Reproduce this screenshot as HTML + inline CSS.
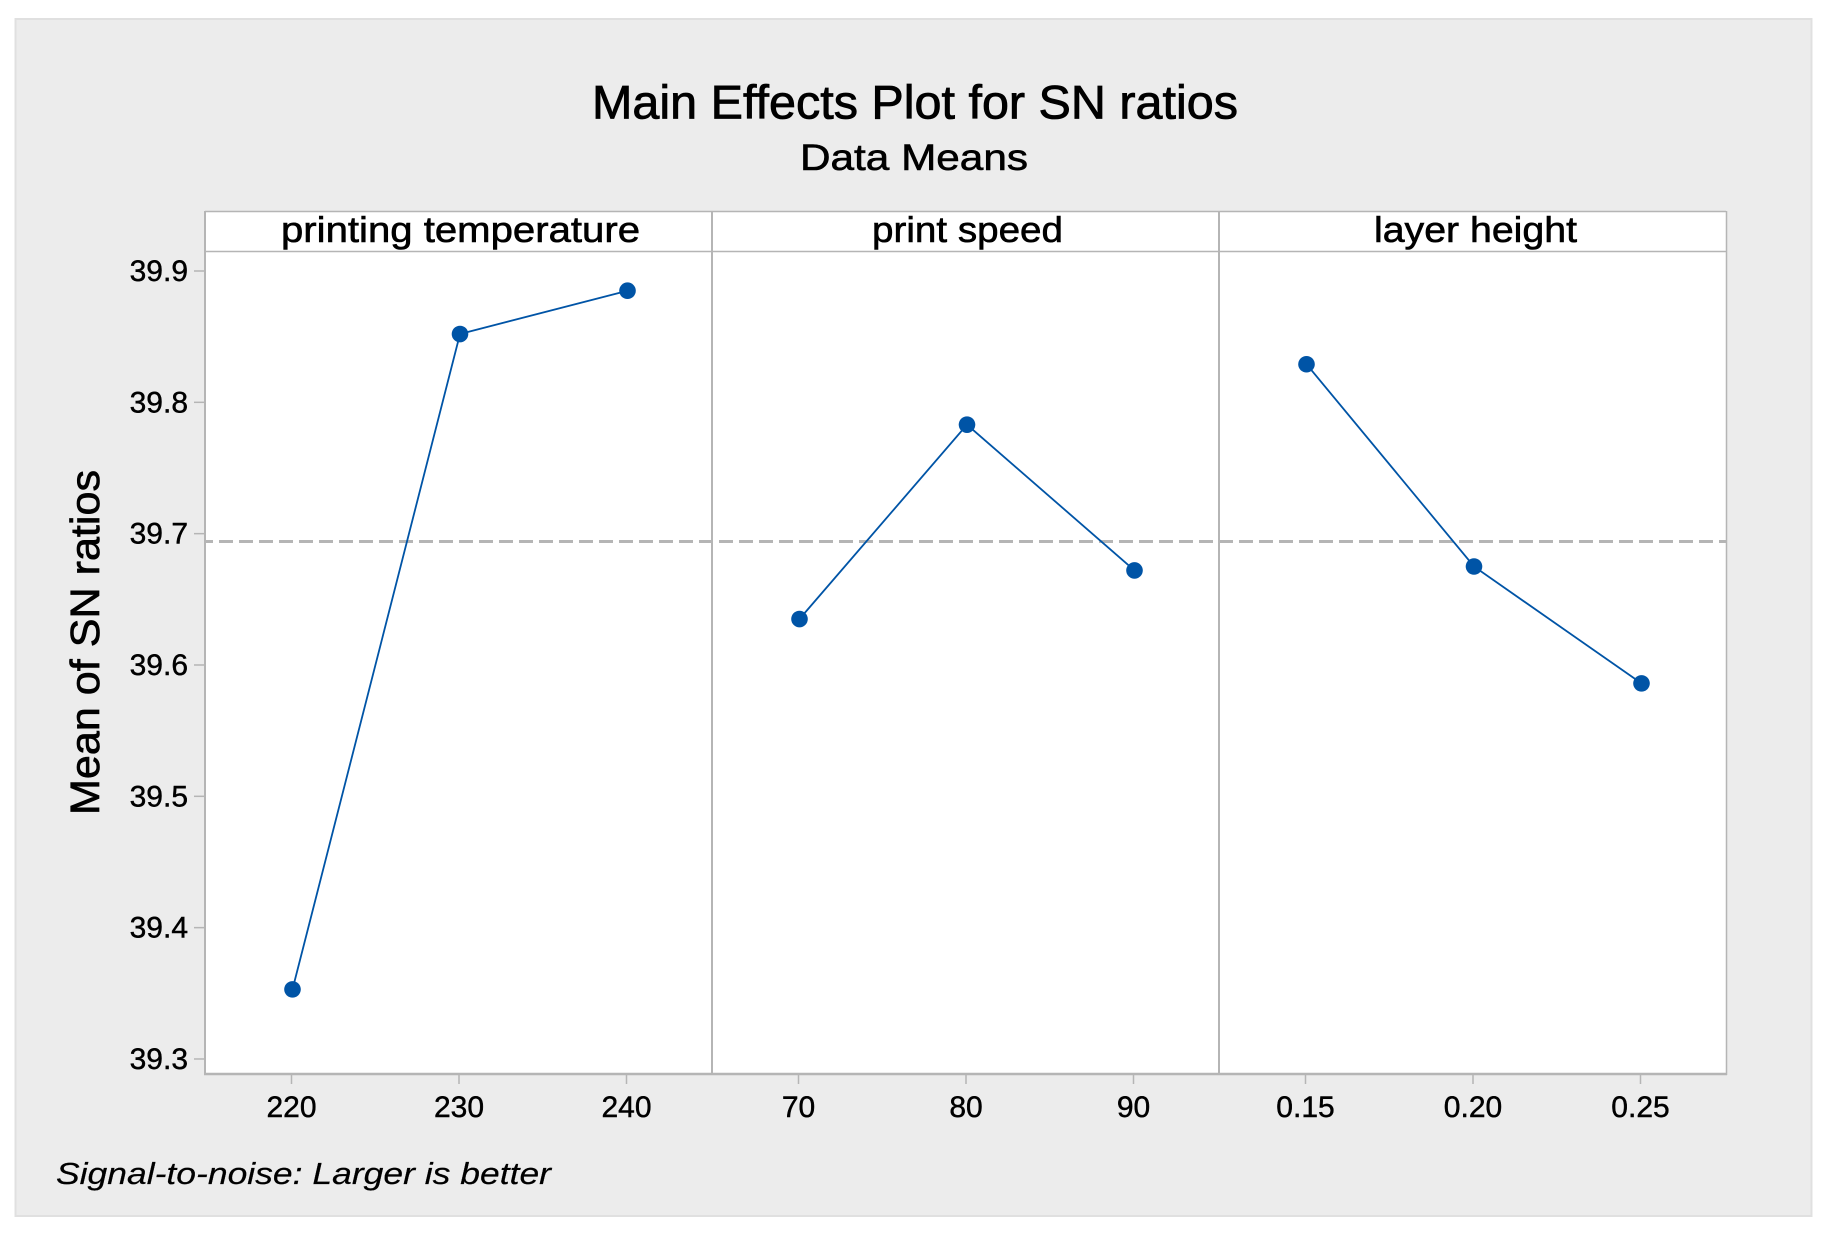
<!DOCTYPE html>
<html lang="en">
<head>
<meta charset="utf-8">
<title>Main Effects Plot for SN ratios</title>
<style>
  html, body { margin: 0; padding: 0; background: #ffffff; }
  svg { display: block; }
  text { font-family: "Liberation Sans", sans-serif; fill: #000000; stroke: #000000; stroke-width: 0.45px; }
</style>
</head>
<body>
<svg id="chart" xmlns="http://www.w3.org/2000/svg" width="1827" height="1236" viewBox="0 0 1827 1236">
  <rect x="0" y="0" width="1827" height="1236" fill="#ffffff"/>
  <rect x="15.5" y="19" width="1796" height="1197" fill="#ececec" stroke="#e0e0e0" stroke-width="2"/>
  <rect x="205" y="211" width="1521" height="863" fill="#ffffff"/>

  <text x="592" y="118.5" font-size="47" textLength="646" lengthAdjust="spacingAndGlyphs" style="stroke-width:0.8px">Main Effects Plot for SN ratios</text>
  <text x="800" y="170" font-size="37" textLength="228" lengthAdjust="spacingAndGlyphs" style="stroke-width:0.6px">Data Means</text>
  <text transform="translate(99 815) rotate(-90)" x="0" y="0" font-size="41" textLength="345" lengthAdjust="spacingAndGlyphs" style="stroke-width:0.7px">Mean of SN ratios</text>
  <text x="281" y="242" font-size="36" textLength="359" lengthAdjust="spacingAndGlyphs" style="stroke-width:0.6px">printing temperature</text>
  <text x="872" y="242" font-size="36" textLength="191" lengthAdjust="spacingAndGlyphs" style="stroke-width:0.6px">print speed</text>
  <text x="1374" y="242" font-size="36" textLength="203" lengthAdjust="spacingAndGlyphs" style="stroke-width:0.6px">layer height</text>
  <text x="56" y="1184" font-size="31" font-style="italic" textLength="495" lengthAdjust="spacingAndGlyphs" style="stroke-width:0.2px">Signal-to-noise: Larger is better</text>

  <g id="grid-layer" stroke="#b5b5b5" fill="none">
    <line x1="205" y1="211.5" x2="1726" y2="211.5" stroke-width="1.5"/>
    <line x1="205" y1="251.5" x2="1726" y2="251.5" stroke-width="1.5"/>
    <line x1="205" y1="211" x2="205" y2="1075" stroke-width="2"/>
    <line x1="1726.5" y1="211" x2="1726.5" y2="1075" stroke-width="1.5"/>
    <line x1="204" y1="1074" x2="1727" y2="1074" stroke-width="2.5"/>
    <line x1="712" y1="211" x2="712" y2="1074" stroke-width="2"/>
    <line x1="1219" y1="211" x2="1219" y2="1074" stroke-width="2"/>
  </g>
  <g id="axes-layer"></g>
  <g id="series-layer"></g>
</svg>

<script>
// Chart data
const yTickValues = [39.3, 39.4, 39.5, 39.6, 39.7, 39.8, 39.9];
const overallMean = 39.694;

const tempLabels = ["220", "230", "240"];
const speedLabels = ["70", "80", "90"];
const heightLabels = ["0.15", "0.20", "0.25"];

const tempMeans = [39.353, 39.852, 39.885];
const speedMeans = [39.635, 39.783, 39.672];
const heightMeans = [39.829, 39.675, 39.586];

const panelNames = ["printing-temperature", "print-speed", "layer-height"];
const panelLabels = [tempLabels, speedLabels, heightLabels];
const panelMeans = [tempMeans, speedMeans, heightMeans];

// Axis functions
const NS = "http://www.w3.org/2000/svg";
const plotLeft = 205;
const panelWidth = 507;
const levelStep = 167.5;

function yScale(v) {
  return 271 + (39.9 - v) * 1313.3;
}
function xScale(panelIndex, levelIndex, levelCount) {
  const center = plotLeft + panelWidth * (panelIndex + 0.5) + 1.5;
  return center + (levelIndex - (levelCount - 1) / 2) * levelStep;
}
function make(tag, attrs, parent) {
  const el = document.createElementNS(NS, tag);
  for (const k in attrs) el.setAttribute(k, attrs[k]);
  parent.appendChild(el);
  return el;
}

const axes = document.getElementById("axes-layer");
const series = document.getElementById("series-layer");

// Y axis ticks and labels
yTickValues.forEach(function (v) {
  const y = yScale(v);
  const tick = make("line", { x1: 194, x2: 204, y1: y, y2: y, stroke: "#b5b5b5", "stroke-width": 1.5 }, axes);
  
  
  const label = make("text", { x: 188, y: y + 10, "font-size": 30, "text-anchor": "end" }, axes);
  
  
  label.textContent = v.toFixed(1);
});

// Overall mean reference line
const meanLine = make("line", {
  x1: plotLeft, x2: plotLeft + panelWidth * 3,
  y1: yScale(overallMean), y2: yScale(overallMean),
  stroke: "#b5b5b5", "stroke-width": 3,
  "stroke-dasharray": "14 6", "stroke-dashoffset": 6
}, axes);



// Panels: x ticks, connecting lines, markers
panelMeans.forEach(function (means, p) {
  const labels = panelLabels[p];
  const n = labels.length;

  labels.forEach(function (text, i) {
    const x = xScale(p, i, n);
    const tick = make("line", { x1: x - 1, x2: x - 1, y1: 1075, y2: 1084, stroke: "#b5b5b5", "stroke-width": 1.5 }, axes);
    
    
    const label = make("text", { x: x - 1, y: 1117, "font-size": 30, "text-anchor": "middle" }, axes);
    
    
    label.textContent = text;
  });

  const pts = means.map(function (v, i) {
    return xScale(p, i, n).toFixed(1) + "," + yScale(v).toFixed(1);
  }).join(" ");
  const line = make("polyline", { points: pts, fill: "none", stroke: "#0054a6", "stroke-width": 1.8 }, series);
  
  

  means.forEach(function (v, i) {
    const dot = make("circle", { cx: xScale(p, i, n), cy: yScale(v), r: 8.3, fill: "#0054a6" }, series);
    
    
  });
});
</script>
</body>
</html>
